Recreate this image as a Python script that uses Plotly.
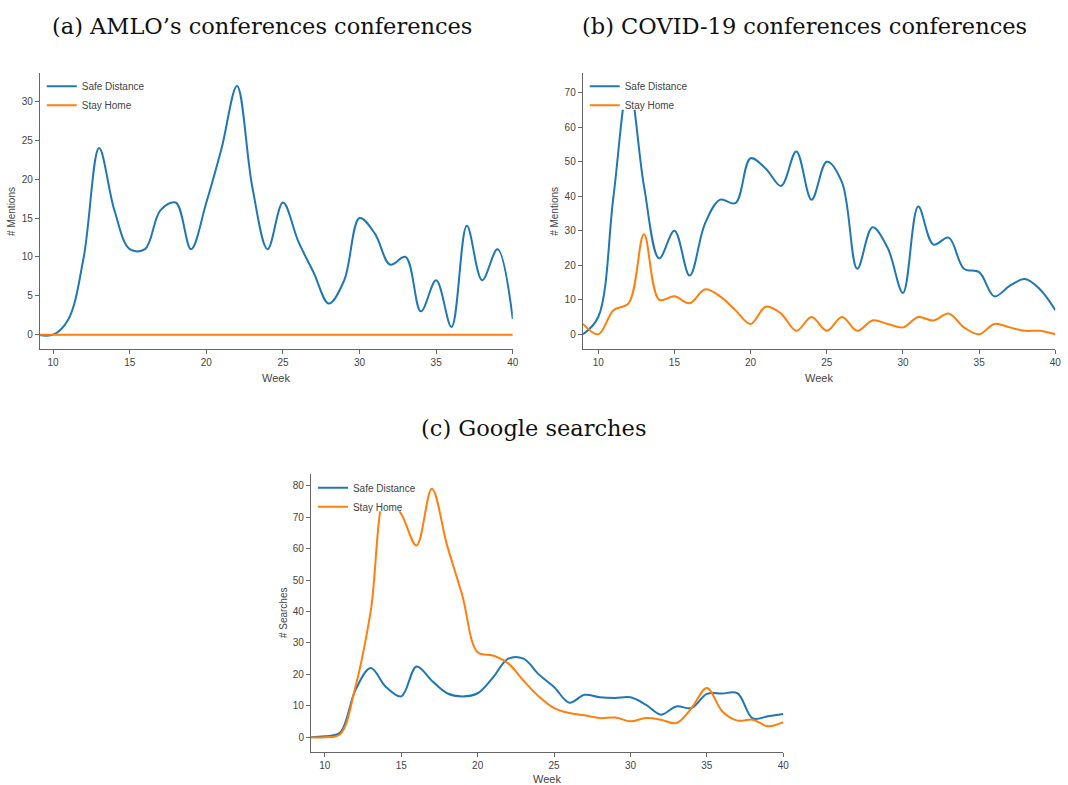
import plotly.graph_objects as go

weeks = list(range(9, 41))

# (a) AMLO's conferences
amlo_safe = [0, 0, 2, 10, 24, 16, 11, 11, 16, 17, 11, 17, 24, 32, 19, 11, 17, 12, 8, 4, 7, 15, 13, 9, 10, 3, 7, 1, 14, 7, 11, 2]
amlo_home = [0] * 32

# (b) COVID-19 conferences
covid_safe = [0, 5, 40, 73, 43, 22, 30, 17, 32, 39, 38, 51, 48, 43, 53, 39, 50, 44, 19, 31, 25, 12, 37, 26, 28, 19, 18, 11, 14, 16, 13, 7]
covid_home = [3, 0, 7, 9, 29, 10, 11, 9, 13, 11, 7, 3, 8, 6, 1, 5, 1, 5, 1, 4, 3, 2, 5, 4, 6, 2, 0, 3, 2, 1, 1, 0]

# (c) Google searches
google_safe = [0, 0.3, 1.5, 15, 22, 16, 13, 22.5, 18, 14, 13, 14, 19, 25, 25, 20, 16, 11, 13.5, 12.7, 12.5, 12.7, 10.4, 7.2, 9.8, 9.3, 13.8, 13.9, 14, 6, 6.7, 7.4]
google_home = [0, 0, 1, 16, 40, 77, 71, 61, 79, 61, 45, 27, 26, 23.5, 18, 13, 9.3, 7.7, 7, 6.1, 6.3, 5.1, 6.1, 5.6, 4.5, 9.3, 15.7, 8.3, 5.3, 5.6, 3.5, 4.8]

titles = ["(a) AMLO\u2019s conferences conferences", "(b) COVID-19 conferences conferences", "(c) Google searches"]
series_names = ["Safe Distance", "Stay Home"]
y_titles = ["# Mentions", "# Mentions", "# Searches"]
x_title = "Week"
tick_vals_x = [10, 15, 20, 25, 30, 35, 40]

BLUE = "#1f77b4"
ORANGE = "#ff7f0e"
W, H = 1068, 785

def px_x(p):
    return p / W

def px_y(p):
    return 1 - p / H

panels = [
    dict(data=(amlo_safe, amlo_home), xpx=(40, 515.7), ypx=(72.7, 349.3), xr=[9.13, 40], yr=[-1.88, 33.7],
         ydt=5, title_xy=(263, 26), xlab_y=378),
    dict(data=(covid_safe, covid_home), xpx=(586, 1061.3), ypx=(72.7, 349.3), xr=[8.98, 40], yr=[-4.35, 75.8],
         ydt=10, title_xy=(809, 26), xlab_y=378),
    dict(data=(google_safe, google_home), xpx=(312.7, 787.7), ypx=(474.3, 751.7), xr=[9.09, 40], yr=[-4.58, 83.6],
         ydt=10, title_xy=(537, 428), xlab_y=778.5),
]

fig = go.Figure()
annotations = []
shapes = []
SANS = "Liberation Sans, Arial, sans-serif"
TICKFONT = dict(family=SANS, size=10, color="#444")

for i, p in enumerate(panels):
    sfx = "" if i == 0 else str(i + 1)
    legname = "legend" + sfx
    for j, (vals, col) in enumerate(zip(p["data"], [BLUE, ORANGE])):
        fig.add_trace(go.Scatter(
            x=weeks, y=vals, name=series_names[j], mode="lines",
            line=dict(color=col, width=2, shape="spline", smoothing=1.0),
            xaxis="x" + sfx, yaxis="y" + sfx, legend=legname, showlegend=True,
        ))
    x0, x1 = p["xpx"]
    y0, y1 = p["ypx"]
    axis_common = dict(showgrid=False, zeroline=False, showline=True, linecolor="#666", linewidth=1,
                       ticks="outside", ticklen=4, tickcolor="#666", tickfont=TICKFONT)
    fig.update_layout(**{
        "xaxis" + sfx: dict(domain=[px_x(x0), px_x(x1)], range=p["xr"], anchor="y" + sfx,
                            tickvals=tick_vals_x, **axis_common),
        "yaxis" + sfx: dict(domain=[px_y(y1), px_y(y0)], range=p["yr"], anchor="x" + sfx,
                            dtick=p["ydt"], tick0=0, **axis_common),
        legname: dict(x=px_x(x0 + 2), y=px_y(y0 - 1), xanchor="left", yanchor="top",
                      bgcolor="rgba(0,0,0,0)", borderwidth=0,
                      font=dict(family=SANS, size=10, color="#444"),
                      itemwidth=30, tracegroupgap=0),
    })
    # opaque legend background box (covers lines underneath, as in the reference)
    shapes.append(dict(type="rect", xref="paper", yref="paper", layer="above",
                       x0=px_x(x0 + 1), x1=px_x(x0 + 97), y0=px_y(y0 + 37), y1=px_y(y0 + 0.5),
                       fillcolor="white", line=dict(width=0)))
    tx, ty = p["title_xy"]
    annotations.append(dict(text=titles[i], x=px_x(tx), y=px_y(ty), xref="paper", yref="paper",
                            showarrow=False, xanchor="center", yanchor="middle",
                            font=dict(family="DejaVu Serif, serif", size=22.5, color="#111")))
    annotations.append(dict(text=x_title, x=px_x((x0 + x1) / 2), y=px_y(p["xlab_y"]), xref="paper", yref="paper",
                            showarrow=False, xanchor="center", yanchor="middle",
                            font=dict(family=SANS, size=11, color="#444")))
    annotations.append(dict(text=y_titles[i], x=px_x(x0 - 28), y=px_y((y0 + y1) / 2), xref="paper", yref="paper",
                            showarrow=False, xanchor="center", yanchor="middle", textangle=-90,
                            font=dict(family=SANS, size=10, color="#444")))

fig.update_layout(width=W, height=H, margin=dict(l=0, r=0, t=0, b=0),
                  plot_bgcolor="white", paper_bgcolor="white", annotations=annotations, shapes=shapes)

fig.write_html("out.html")
